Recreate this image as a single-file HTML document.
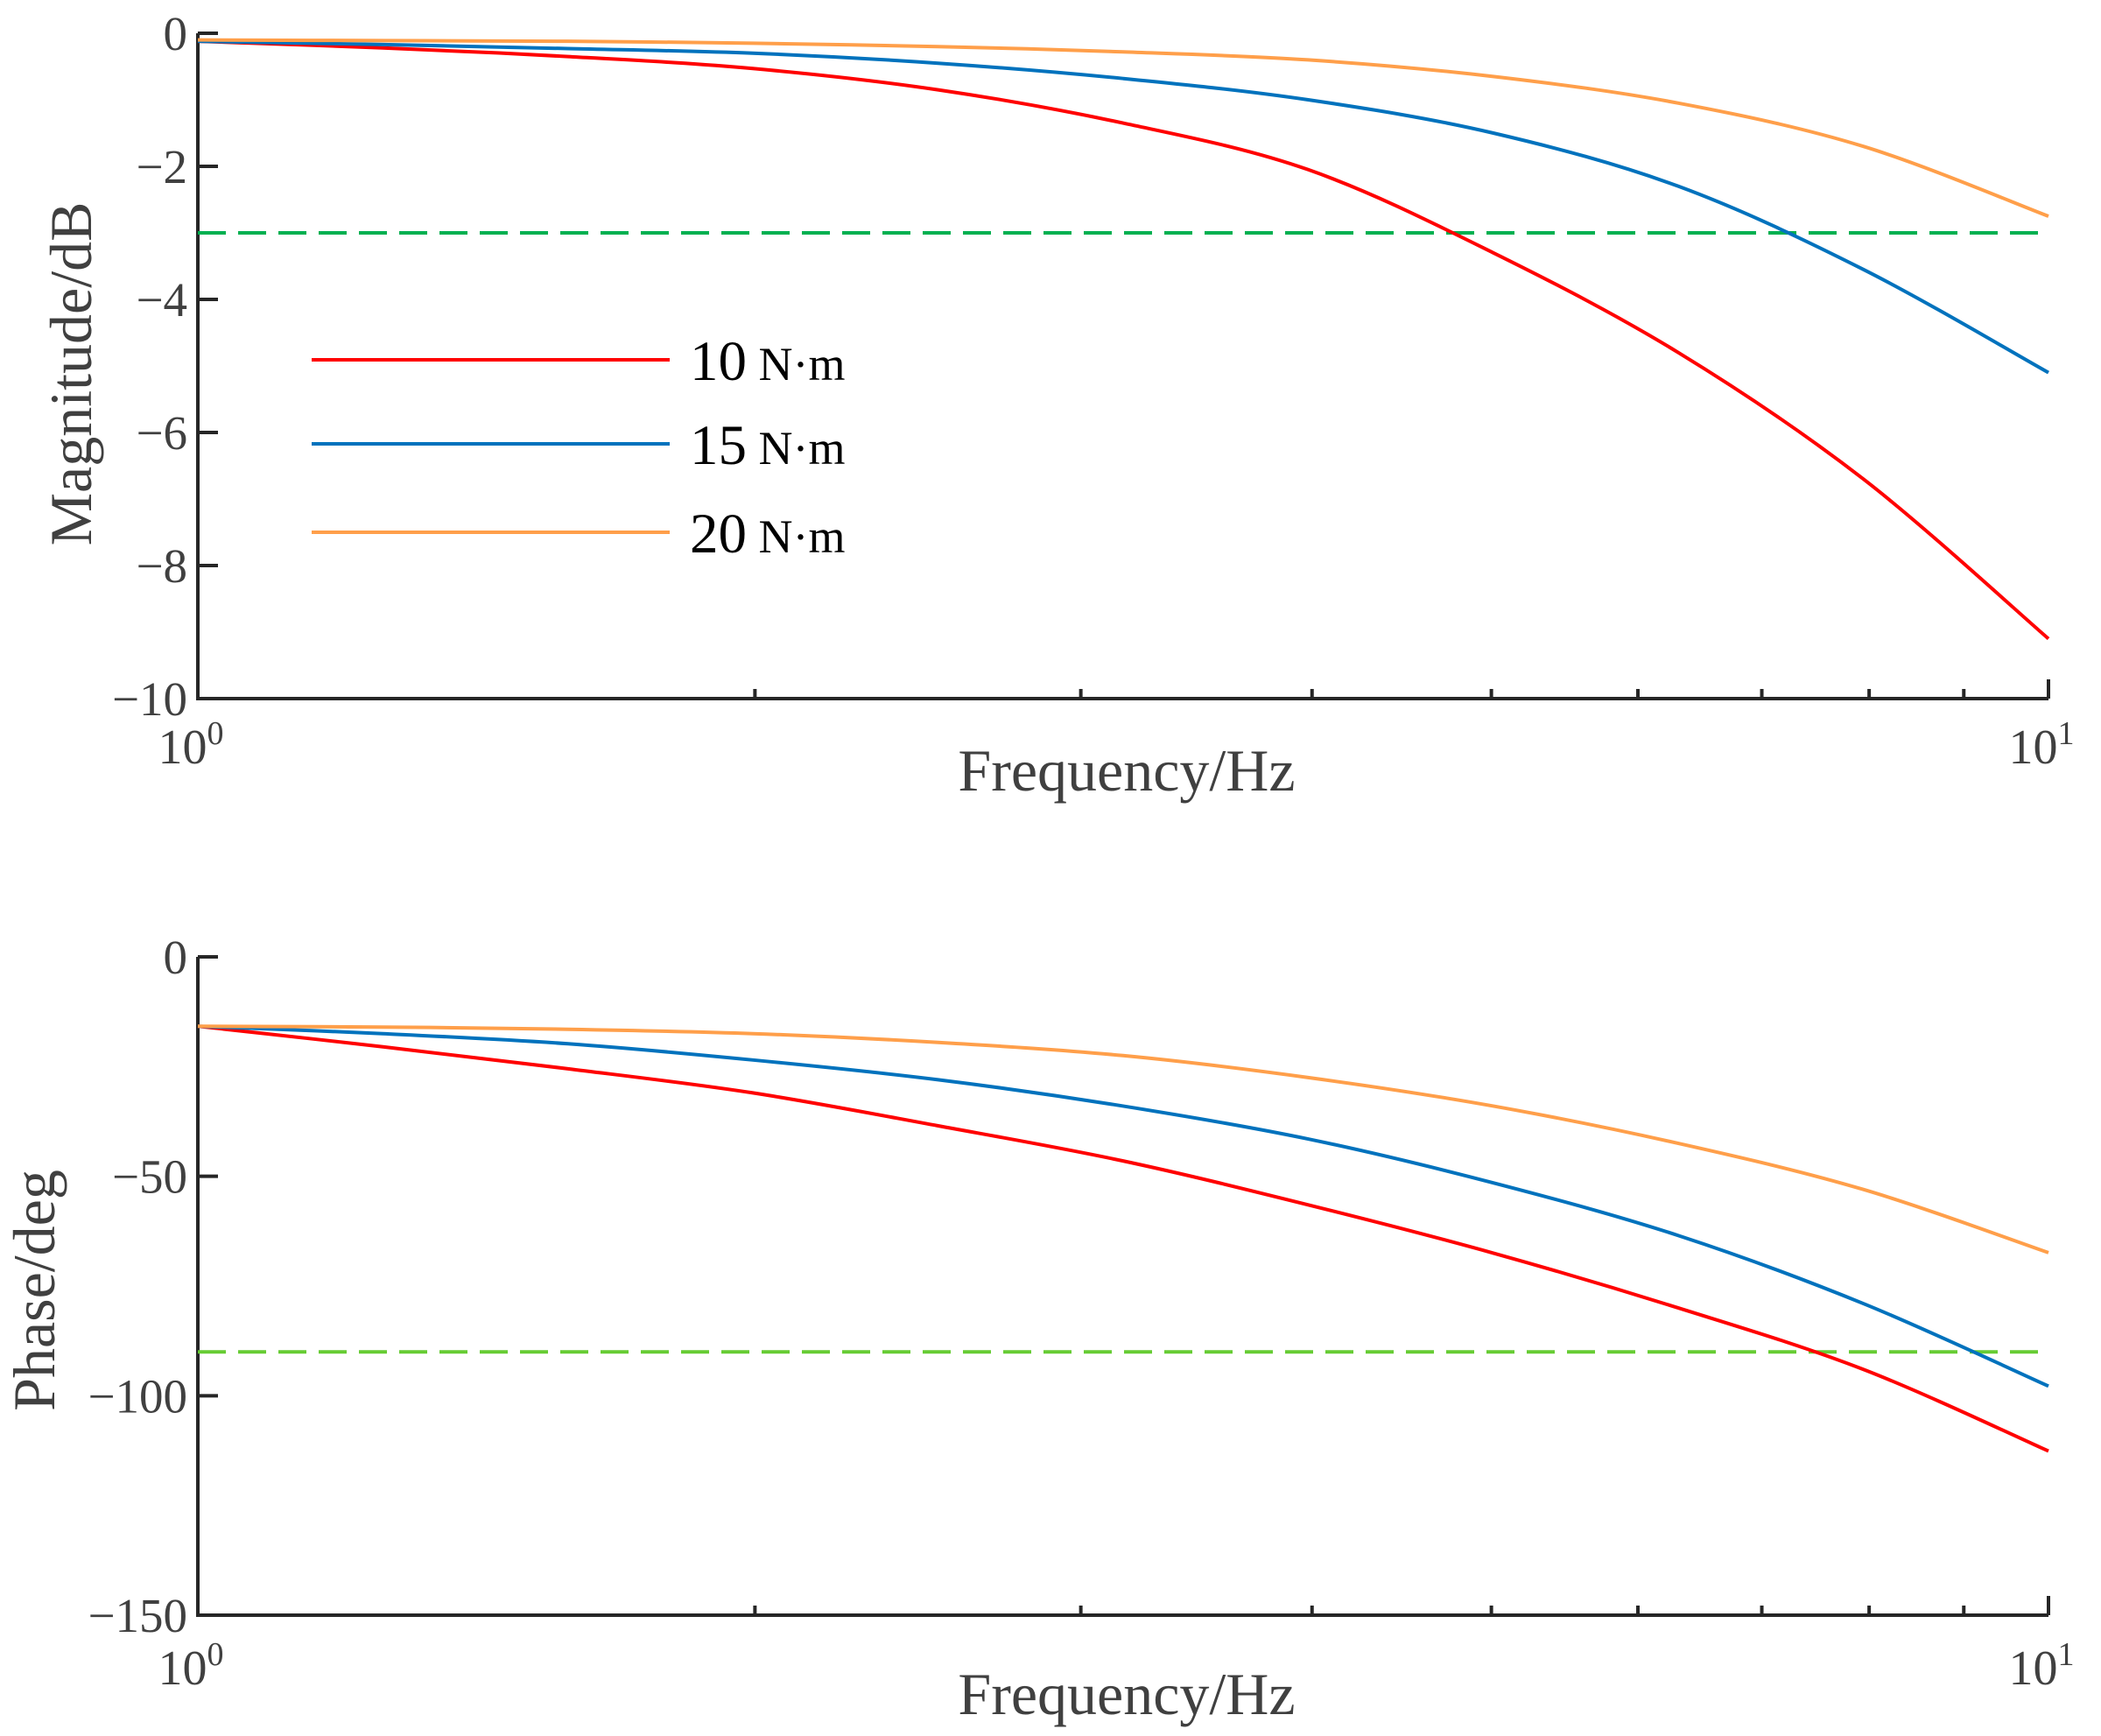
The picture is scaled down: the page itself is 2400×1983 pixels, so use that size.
<!DOCTYPE html>
<html><head><meta charset="utf-8"><style>
html,body{margin:0;padding:0;background:#fff;}
svg{display:block;}
text{font-family:"Liberation Serif",serif;fill:#404040;}
</style></head><body>
<svg id="chart" width="2400" height="1983" viewBox="0 0 2400 1983" xmlns="http://www.w3.org/2000/svg">
<g id="gtop"></g>
<g id="gbot"></g>
</svg>
<script>
const freqs = [1,1.259,1.585,1.995,2.512,3.162,3.981,5.012,6.31,7.943,10];
const mag10 = [-0.12,-0.22,-0.35,-0.53,-0.85,-1.35,-2.05,-3.3,-4.8,-6.7,-9.1];
const mag15 = [-0.12,-0.17,-0.23,-0.3,-0.45,-0.68,-1.0,-1.5,-2.3,-3.55,-5.1];
const mag20 = [-0.1,-0.11,-0.12,-0.15,-0.2,-0.28,-0.4,-0.65,-1.05,-1.7,-2.75];
const ph10 = [-15.8,-20.5,-25.5,-31,-38.5,-46.5,-56.5,-67.5,-80,-94,-112.6];
const ph15 = [-15.8,-17.5,-19.8,-23.5,-28,-34,-41.5,-51.5,-63.5,-79,-97.8];
const ph20 = [-15.8,-16,-16.5,-17.5,-19.5,-22.5,-27.5,-34,-42.5,-53,-67.4];
const magTicks = [0,-2,-4,-6,-8,-10];
const phTicks = [0,-50,-100,-150];
const magRef = -3;
const phRef = -90;
const seriesNames = ["10","15","20"];
const colors = ["#ff0000","#0072bd","#ff9f4a"];

(function(){
const NS="http://www.w3.org/2000/svg";
const X0=226,X1=2340;
const xs=f=>X0+Math.log10(f)*(X1-X0);
function mk(parent,tag,attrs){const e=document.createElementNS(NS,tag);for(const k in attrs)e.setAttribute(k,attrs[k]);parent.appendChild(e);return e;}
function spline(pts){let d=`M${pts[0][0]},${pts[0][1]}`;for(let i=0;i<pts.length-1;i++){const p0=pts[Math.max(0,i-1)],p1=pts[i],p2=pts[i+1],p3=pts[Math.min(pts.length-1,i+2)];
const c1=[p1[0]+(p2[0]-p0[0])/6,p1[1]+(p2[1]-p0[1])/6],c2=[p2[0]-(p3[0]-p1[0])/6,p2[1]-(p3[1]-p1[1])/6];d+=` C${c1[0]},${c1[1]} ${c2[0]},${c2[1]} ${p2[0]},${p2[1]}`;}return d;}
function plot(g,yTop,yBot,vMin,ticks,series,ref,refColor,xlabY,titleY,ytitle,ytitleX,ytitleY){
 const ys=v=>yTop+(v/vMin)*(yBot-yTop);
 const ax=mk(g,'path',{d:`M${X0},${yTop} V${yBot} H${X1}`,fill:'none',stroke:'#262626','stroke-width':4});
 
 
 ticks.forEach(t=>{const y=ys(t);
  const l=mk(g,'line',{x1:X0,x2:X0+23,y1:y,y2:y,stroke:'#262626','stroke-width':4});
  
  
  const tx=mk(g,'text',{x:214,y:y+19,'text-anchor':'end','font-size':55});
  tx.textContent=(t<0?'\u2212':'')+Math.abs(t);
  
  });
 for(let f=2;f<=10;f++){const x=xs(f);const len=f==10?22:11;
  const l=mk(g,'line',{x1:x,x2:x,y1:yBot,y2:yBot-len,stroke:'#262626','stroke-width':4});
  
  }
 [[1,'0'],[10,'1']].forEach(([f,e])=>{const t=mk(g,'text',{x:xs(f)-8,y:xlabY,'text-anchor':'middle','font-size':56});
  t.innerHTML=`10<tspan dy="-22" font-size="38">${e}</tspan>`;
  
  });
 const xt=mk(g,'text',{x:1287,y:titleY,'text-anchor':'middle','font-size':68});xt.textContent='Frequency/Hz';
 
 
 const yt=mk(g,'text',{x:0,y:0,'text-anchor':'middle','font-size':68,transform:`translate(${ytitleX},${ytitleY}) rotate(-90)`});yt.textContent=ytitle;
 
 
 const r=mk(g,'line',{x1:X0,x2:X1,y1:ys(ref),y2:ys(ref),stroke:refColor,'stroke-width':4,'stroke-dasharray':'32,14'});
 
 
 series.forEach((s,i)=>{const p=mk(g,'path',{d:spline(freqs.map((f,j)=>[xs(f),ys(s[j])])),fill:'none',stroke:colors[i],'stroke-width':4});
  
  });
}
const gTop=document.getElementById('gtop'),gBot=document.getElementById('gbot');
plot(gTop,38,798,-10,magTicks,[mag10,mag15,mag20],magRef,'#00b050',872,903,'Magnitude/dB',104,427);
plot(gBot,1093,1845,-150,phTicks,[ph10,ph15,ph20],phRef,'#66cc33',1924,1958,'Phase/deg',62,1474);
const ly=[411,507,608];
seriesNames.forEach((n,i)=>{const l=mk(gTop,'line',{x1:356,x2:765,y1:ly[i],y2:ly[i],stroke:colors[i],'stroke-width':4});
 
 
 const t=mk(gTop,'text',{x:788,y:ly[i]+23,'font-size':65});t.innerHTML=`<tspan style="fill:#000">${n}</tspan><tspan font-size="54" style="fill:#000"> N·m</tspan>`;
 
 });
})();
</script>
</body></html>
